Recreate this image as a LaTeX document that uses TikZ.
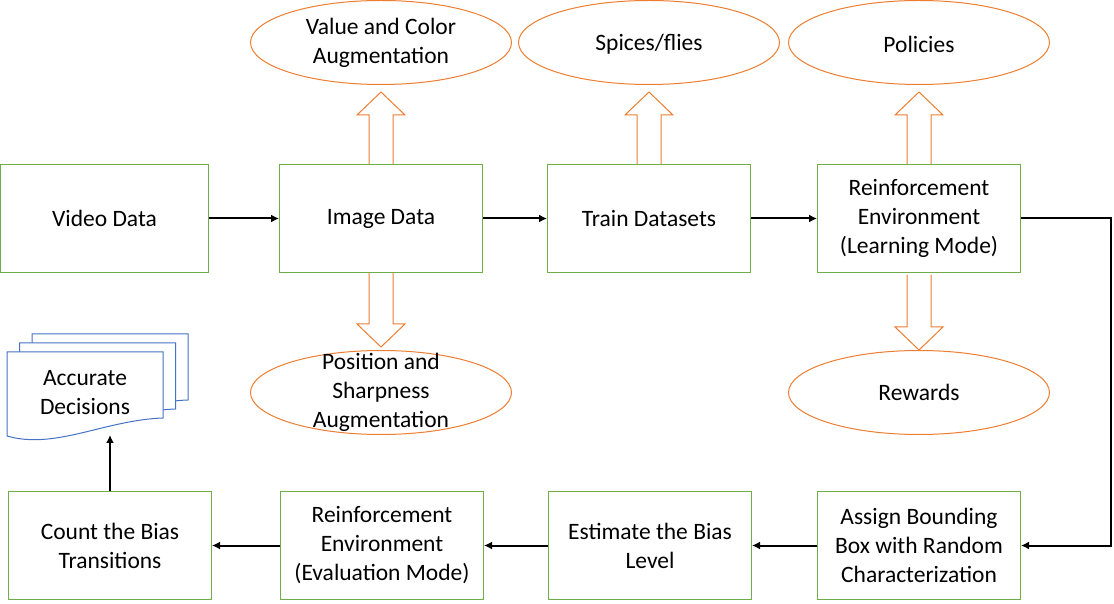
\documentclass[tikz,border=0pt]{standalone}
\usepackage{fontspec}
\setmainfont{Carlito}
\usepackage{tikz}
\usetikzlibrary{shapes.geometric, arrows.meta, positioning, calc}

\definecolor{boxgreen}{HTML}{70AD47}
\definecolor{ellorange}{HTML}{ED7D31}
\definecolor{docblue}{HTML}{4472C4}

% hollow block arrow from #1 to #2
\newcommand{\fatarrow}[2]{%
  \path (#1) coordinate (fa0) (#2) coordinate (fa1) ($(fa1)!23pt!(fa0)$) coordinate (fab);
  \draw[fat] ($(fa0)!12pt!90:(fa1)$) -- ($(fab)!12pt!90:(fa1)$) -- ($(fab)!24pt!90:(fa1)$) -- (fa1)
    -- ($(fab)!24pt!-90:(fa1)$) -- ($(fab)!12pt!-90:(fa1)$) -- ($(fa0)!12pt!-90:(fa1)$);
}

\begin{document}
\begin{tikzpicture}[
    x=1pt, y=1pt,
    every node/.style={font=\fontsize{23.5}{29}\selectfont},
    stage/.style={rectangle, draw=boxgreen, line width=1pt, minimum width=203pt, minimum height=108pt, align=center, inner sep=2pt},
    bubble/.style={ellipse, draw=ellorange, line width=1pt, minimum width=261pt, minimum height=84pt},
    txt/.style={align=center},
    arrow/.style={line width=2pt, -{Latex[length=8pt, width=8pt]}},
    fat/.style={draw=ellorange, line width=1pt, line join=miter},
    doc/.style={draw=docblue, line width=1pt, fill=white}
]
    \useasboundingbox (0,0) rectangle (1114,603);

    % top row
    \node[stage, minimum width=208pt] (vid) at (104.5,384.5) {Video Data};
    \node[stage, right=70pt of vid] (img) {Image Data};
    \node[stage, right=64pt of img] (train) {Train Datasets};
    \node[stage, right=66pt of train] (rlearn) {Reinforcement\\Environment\\(Learning Mode)};

    % bottom row
    \node[stage, below=218pt of rlearn] (assign) {Assign Bounding\\Box with Random\\Characterization};
    \node[stage, left=65pt of assign] (est) {Estimate the Bias\\Level};
    \node[stage, left=64pt of est] (eval) {Reinforcement\\Environment\\(Evaluation Mode)};
    \node[stage, left=68pt of eval] (count) {Count the Bias\\Transitions};

    % ellipses
    \node[bubble, above=79pt of img, label={[txt]center:Value and Color\\Augmentation}] (valc) {};
    \node[bubble, below=77pt of img, label={[txt]center:Position and\\Sharpness\\Augmentation}] (posn) {};
    \node[bubble, above=79pt of train, label={[txt, yshift=-2pt]center:Spices/flies}] (spice) {};
    \node[bubble, above=79pt of rlearn, label={[txt, yshift=-2pt]center:Policies}] (pol) {};
    \node[bubble, below=77pt of rlearn, label={[txt]center:Rewards}] (rew) {};

    \fatarrow{img.north}{[yshift=-7pt]valc.south}
    \fatarrow{img.south}{[yshift=3pt]posn.north}
    \fatarrow{train.north}{[yshift=-7pt]spice.south}
    \fatarrow{rlearn.north}{[yshift=-7pt]pol.south}
    \fatarrow{[yshift=-2pt]rlearn.south}{rew.north}

    % stacked documents
    \coordinate (accpos) at (85,210);
    \foreach \dx/\dy in {25/18, 12.5/9, 0/0}
        \draw[doc, shift={($(accpos)+(\dx,\dy)$)}] (-78,41) -- (78,41) -- (78,-25)
            .. controls (20,-27) and (-30,-57) .. (-78,-43) -- cycle;
    \node[txt] (acc) at (accpos) {Accurate\\Decisions};
    \coordinate (accin) at ($(accpos)+(25,-42)$);

    \draw[arrow] (vid) -- (img);
    \draw[arrow] (img) -- (train);
    \draw[arrow] (train) -- (rlearn);
    \draw[arrow] (rlearn.east) -- ++(90,0) |- (assign.east);
    \draw[arrow] (assign) -- (est);
    \draw[arrow] (est) -- (eval);
    \draw[arrow] (eval) -- (count);
    \draw[arrow] (count.north) -- (count.north |- accin);
\end{tikzpicture}
\end{document}
